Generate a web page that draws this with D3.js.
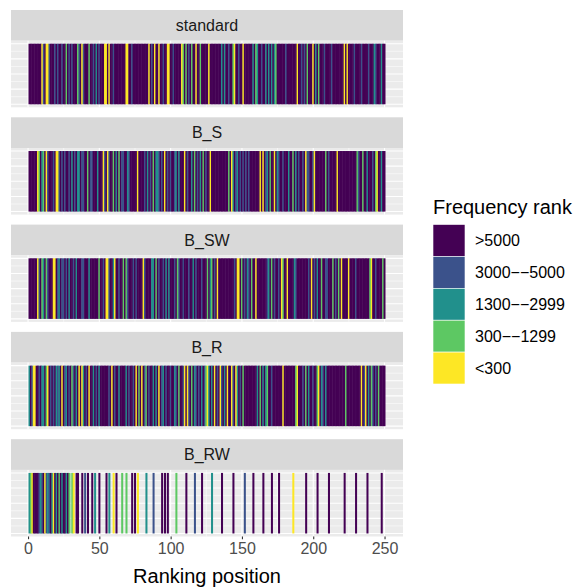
<!DOCTYPE html>
<html>
<head>
<meta charset="utf-8">
<script src="https://cdn.jsdelivr.net/npm/d3@7/dist/d3.min.js"></script>
<style>
body { margin: 0; background: #fff; }
text { font-family: "Liberation Sans", Arial, sans-serif; }
</style>
</head>
<body>
<script>
// facet names, legend classes, colours
var facets = ["standard", "B_S", "B_SW", "B_R", "B_RW"];
var rankLabels = [">5000", "3000\u2212\u22125000", "1300\u2212\u22122999", "300\u2212\u22121299", "<300"];
var rankColours = ["#440154", "#3B528B", "#21908C", "#5DC863", "#FDE725"];
var xTicks = [0, 50, 100, 150, 200, 250];
var nPositions = 250;

// [position, class] for every bar that is not ">5000" (class 0)
// class: 1 = 3000--5000, 2 = 1300--2999, 3 = 300--1299, 4 = <300
var standardMarks = [[10,4],[11,1],[13,4],[14,4],[15,1],[19,1],[21,1],[24,1],[27,3],[29,1],[31,1],[35,3],[36,1],[38,4],[39,1],[43,3],[46,1],[48,2],[50,1],[54,4],[55,4],[57,4],[60,1],[69,4],[70,4],[73,1],[85,4],[87,1],[89,4],[92,4],[95,1],[98,4],[99,4],[102,1],[108,4],[109,3],[111,3],[113,1],[115,3],[118,4],[121,3],[127,4],[136,2],[138,2],[141,1],[144,3],[145,4],[148,1],[151,4],[158,2],[160,3],[161,2],[164,1],[167,2],[169,2],[171,2],[173,2],[174,3],[181,1],[189,4],[192,1],[194,1],[196,3],[200,4],[202,2],[204,3],[208,1],[213,1],[222,4],[224,4],[229,1],[234,1],[239,1],[243,2],[244,1],[248,2]];

var bsMarks = [[7,4],[8,3],[10,2],[11,3],[13,4],[14,1],[18,1],[20,4],[21,4],[22,1],[24,1],[26,1],[29,1],[31,2],[33,1],[35,2],[36,2],[38,1],[39,1],[42,3],[44,1],[45,1],[49,2],[53,4],[54,1],[56,4],[57,1],[60,3],[62,2],[64,3],[66,1],[67,1],[70,2],[71,1],[77,4],[82,1],[84,2],[86,1],[88,3],[90,2],[91,2],[92,1],[94,1],[96,4],[98,1],[100,1],[103,1],[104,2],[106,2],[110,4],[112,1],[115,2],[117,3],[119,1],[121,2],[123,3],[125,1],[128,4],[141,3],[143,4],[144,2],[146,1],[147,2],[149,1],[151,1],[153,1],[155,1],[163,4],[165,4],[167,1],[168,2],[170,3],[173,4],[175,2],[176,1],[179,1],[183,2],[186,3],[188,2],[190,1],[193,1],[195,4],[196,1],[197,1],[200,1],[201,4],[209,3],[211,1],[217,4],[231,3],[232,1],[235,3],[238,2],[242,1],[244,3],[245,4],[248,2]];

var bswMarks = [[7,4],[8,1],[10,3],[11,2],[13,3],[14,1],[18,4],[19,4],[21,1],[22,2],[24,1],[25,1],[27,1],[29,2],[32,1],[34,2],[38,1],[39,1],[43,2],[50,3],[53,1],[55,4],[56,4],[57,1],[60,2],[61,4],[64,1],[67,3],[69,3],[70,1],[74,1],[76,1],[81,4],[82,1],[87,2],[88,2],[90,3],[92,1],[95,1],[97,2],[99,2],[103,1],[105,3],[106,1],[109,1],[113,1],[116,2],[118,1],[122,1],[126,3],[128,2],[129,3],[131,1],[133,4],[145,1],[147,4],[148,4],[150,3],[152,1],[154,2],[155,1],[157,3],[160,4],[168,1],[169,2],[171,3],[173,1],[176,1],[178,4],[179,3],[182,4],[187,2],[188,1],[197,1],[199,4],[201,1],[203,2],[206,3],[209,1],[210,1],[214,3],[216,1],[218,3],[220,4],[225,4],[230,1],[240,3],[241,4],[244,1],[249,3]];

var brMarks = [[1,2],[3,1],[4,4],[5,4],[8,1],[10,2],[11,2],[13,3],[14,4],[16,1],[18,1],[20,2],[21,1],[22,2],[24,4],[26,1],[27,2],[29,1],[31,3],[32,1],[34,2],[36,4],[38,4],[39,2],[41,1],[43,4],[46,2],[48,1],[50,2],[57,1],[59,4],[61,1],[64,2],[69,2],[71,1],[74,1],[76,4],[78,3],[80,4],[82,1],[83,3],[85,1],[88,2],[90,2],[92,4],[94,1],[95,2],[97,1],[100,1],[103,2],[104,1],[106,3],[109,1],[110,4],[112,4],[113,1],[115,3],[117,2],[118,1],[120,1],[122,2],[124,1],[125,3],[126,4],[127,2],[129,2],[131,4],[133,1],[135,4],[136,1],[138,2],[140,4],[143,4],[144,1],[146,4],[147,2],[149,1],[151,3],[161,2],[163,3],[165,2],[167,2],[168,3],[171,1],[179,4],[188,3],[189,4],[193,1],[195,3],[197,2],[200,1],[203,3],[204,4],[206,2],[207,1],[209,2],[223,3],[234,4],[236,1],[237,4],[239,2],[241,3],[242,1],[244,1],[246,3]];

// B_RW only has bars at some positions: [position, class] for every bar
var brwMarks = [[1,2],[2,3],[3,4],[4,0],[5,0],[6,0],[7,0],[8,1],[9,2],[10,1],[11,0],[12,4],[13,1],[14,2],[15,1],[16,0],[17,2],[18,4],[19,0],[20,2],[21,0],[22,3],[23,0],[24,2],[25,0],[26,0],[27,2],[28,0],[29,3],[31,3],[32,4],[34,0],[35,0],[38,0],[40,1],[42,0],[45,0],[47,2],[50,0],[55,0],[57,2],[60,4],[62,0],[66,3],[69,3],[73,0],[75,0],[77,4],[83,2],[88,1],[94,0],[96,0],[98,0],[104,3],[111,0],[117,1],[122,0],[129,2],[136,0],[144,0],[152,1],[158,0],[165,0],[171,0],[176,0],[186,4],[195,0],[203,0],[211,0],[222,0],[230,0],[238,0],[248,0]];

function fillPanel(marks) {
    var bars = d3.range(1, nPositions + 1).map(function(p) { return {pos: p, rank: 0}; });
    marks.forEach(function(m) { bars[m[0] - 1].rank = m[1]; });
    return bars;
}
function listPanel(marks) {
    return marks.map(function(m) { return {pos: m[0], rank: m[1]}; });
}
var panelBars = [fillPanel(standardMarks), fillPanel(bsMarks), fillPanel(bswMarks), fillPanel(brMarks), listPanel(brwMarks)];

var width = 587, height = 588;
var panelLeft = 11, panelRight = 403;
var firstTop = 10, facetStep = 107.3, stripH = 30.7, panelH = 66.6;

var svg = d3.select("body").append("svg").attr("width", width).attr("height", height);

var x = d3.scaleLinear().domain([-11.95, 262.95]).range([panelLeft, panelRight]);
var colour = d3.scaleOrdinal().domain(d3.range(5)).range(rankColours);
var barW = x(1) - x(0);

facets.forEach(function(name, i) {
    var top = firstTop + i * facetStep;
    var pTop = top + stripH, pBot = pTop + panelH;
    var y = d3.scaleLinear().domain([-0.05, 1.05]).range([pBot, pTop]);
    var g = svg.append("g");

    // strip
    g.append("rect").attr("x", panelLeft).attr("y", top).attr("width", panelRight - panelLeft).attr("height", stripH).attr("fill", "#D9D9D9");
    g.append("text").attr("x", (panelLeft + panelRight) / 2).attr("y", top + stripH / 2).attr("dy", "0.35em")
        .attr("text-anchor", "middle").attr("font-size", 16).attr("fill", "#1A1A1A").text(name);

    // panel background and grid
    g.append("rect").attr("x", panelLeft).attr("y", pTop).attr("width", panelRight - panelLeft).attr("height", panelH).attr("fill", "#EBEBEB");
    var yMinor = [0.125, 0.375, 0.625, 0.875], yMajor = [0, 0.25, 0.5, 0.75, 1];
    var xMinor = [25, 75, 125, 175, 225];
    g.selectAll(".ymin").data(yMinor).enter().append("line")
        .attr("x1", panelLeft).attr("x2", panelRight).attr("y1", y).attr("y2", y)
        .attr("stroke", "#fff").attr("stroke-width", 0.55);
    g.selectAll(".xmin").data(xMinor).enter().append("line")
        .attr("y1", pTop).attr("y2", pBot).attr("x1", x).attr("x2", x)
        .attr("stroke", "#fff").attr("stroke-width", 0.55);
    g.selectAll(".ymaj").data(yMajor).enter().append("line")
        .attr("x1", panelLeft).attr("x2", panelRight).attr("y1", y).attr("y2", y)
        .attr("stroke", "#fff").attr("stroke-width", 1.1);
    g.selectAll(".xmaj").data(xTicks).enter().append("line")
        .attr("y1", pTop).attr("y2", pBot).attr("x1", x).attr("x2", x)
        .attr("stroke", "#fff").attr("stroke-width", 1.1);

    // bars
    var sparse = (name === "B_RW");
    g.selectAll(".bar").data(panelBars[i]).enter().append("rect")
        .attr("x", function(d) { return x(d.pos - 0.5) - 0.25; })
        .attr("width", sparse ? barW + 0.6 : barW + 0.5)
        .attr("y", y(1)).attr("height", y(0) - y(1))
        .attr("fill", function(d) { return colour(d.rank); });

    // x axis under last panel
    if (i === facets.length - 1) {
        var ax = svg.append("g").attr("transform", "translate(0," + pBot + ")")
            .call(d3.axisBottom(x).tickValues(xTicks).tickSize(2.7).tickPadding(3));
        ax.select(".domain").remove();
        ax.selectAll(".tick line").attr("stroke", "#333333").attr("stroke-width", 1.1);
        ax.selectAll(".tick text").attr("font-size", 16).attr("fill", "#4D4D4D")
            .attr("font-family", "Liberation Sans, Arial, sans-serif");
        svg.append("text").attr("x", (panelLeft + panelRight) / 2).attr("y", pBot + 46)
            .attr("text-anchor", "middle").attr("font-size", 20).attr("fill", "#000").text("Ranking position");
    }
});

// legend
var legend = svg.append("g");
legend.append("text").attr("x", 433).attr("y", 214).attr("font-size", 20).attr("fill", "#000").text("Frequency rank");
var keyTop = 224.5, keyH = 31.9;
legend.selectAll(".key").data(rankLabels).enter().append("rect")
    .attr("x", 433).attr("y", function(d, i) { return keyTop + i * keyH; })
    .attr("width", 32).attr("height", keyH)
    .attr("fill", function(d, i) { return rankColours[i]; })
    .attr("stroke", "#fff").attr("stroke-width", 0.6);
legend.selectAll(".lab").data(rankLabels).enter().append("text")
    .attr("x", 475).attr("y", function(d, i) { return keyTop + i * keyH + keyH / 2; }).attr("dy", "0.35em")
    .attr("font-size", 16).attr("fill", "#000").text(function(d) { return d; });
</script>
</body>
</html>
